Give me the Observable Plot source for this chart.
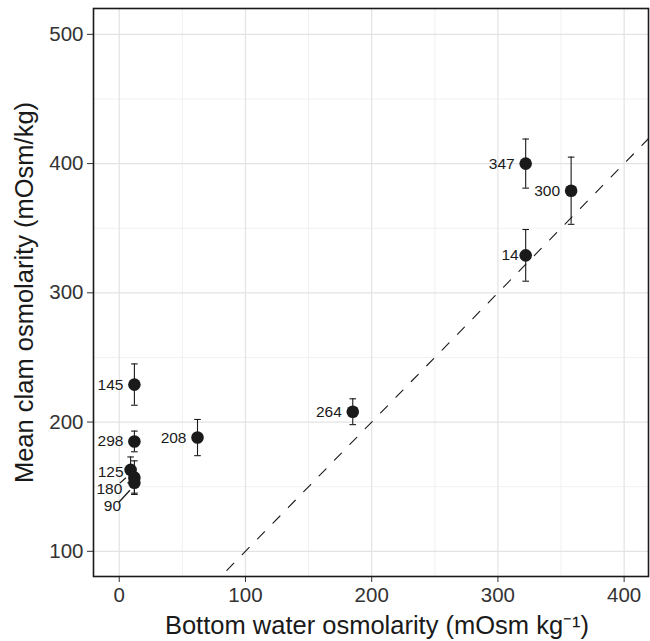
<!DOCTYPE html>
<html>
<head>
<meta charset="utf-8">
<script src="https://cdn.jsdelivr.net/npm/d3@7"></script>
<script src="https://cdn.jsdelivr.net/npm/@observablehq/plot@0.6"></script>
<style>
  html, body { margin: 0; padding: 0; background: #fff; }
  svg { display: block; }
</style>
</head>
<body>
<div id="chart"></div>
<script>
// ---- data ----
const sites = ["347", "300", "14", "264", "208", "145", "298", "125", "180", "90"];
const waterOsm = [322, 358, 322, 185, 62, 12, 12, 9, 12, 12];
const clamOsm = [400, 379, 329, 208, 188, 229, 185, 163, 157, 153];
const clamErr = [19, 26, 20, 10, 14, 16, 8, 10, 13, 8];
const xTicks = [0, 100, 200, 300, 400];
const xMinor = [50, 150, 250, 350];
const yTicks = [100, 200, 300, 400, 500];
const yMinor = [150, 250, 350, 450];
const refLine = [0, 520]; // 1:1 line

const xLabel = "Bottom water osmolarity (mOsm kg\u207B\u00B9)";
const yLabel = "Mean clam osmolarity (mOsm/kg)";

// ---- layout / style ----
const labelNudge = { "14": [-7, 0, "end"], "125": [-7, 2, "end"], "180": [-25, 11, "middle"], "90": [-22, 23, "middle"] };
const leaders = { "180": [[-14, 6], [-8, 0.6]], "90": [[-15, 20], [-4, 8]] };
const ink = "#1a1a1a";

const rows = sites.map((s, i) => ({
  site: s, x: waterOsm[i], y: clamOsm[i], lo: clamOsm[i] - clamErr[i], hi: clamOsm[i] + clamErr[i]
}));

const capSymbol = { draw(ctx) { ctx.moveTo(-3.3, 0); ctx.lineTo(3.3, 0); } };

const defaultLabels = rows.filter(d => !(d.site in labelNudge));
const labelMarks = [
  Plot.text(defaultLabels, { x: "x", y: "y", text: "site", textAnchor: "end", dx: -11, fontSize: 15.5, fill: ink })
];
for (const [site, [dx, dy, anchor]] of Object.entries(labelNudge)) {
  labelMarks.push(Plot.text(rows.filter(d => d.site === site), {
    x: "x", y: "y", text: "site", textAnchor: anchor, dx, dy, fontSize: 15.5, fill: ink
  }));
}

const chart = Plot.plot({
  width: 650,
  height: 641,
  marginLeft: 93,
  marginRight: 2,
  marginTop: 8,
  marginBottom: 65,
  style: { fontFamily: "'Liberation Sans', Arial, sans-serif", background: "#fff", color: ink },
  x: { domain: [-20.4, 419.3] },
  y: { domain: [80.5, 520] },
  marks: [
    Plot.gridX(xMinor, { stroke: "#ededed", strokeOpacity: 1, strokeWidth: 0.8 }),
    Plot.gridY(yMinor, { stroke: "#ededed", strokeOpacity: 1, strokeWidth: 0.8 }),
    Plot.gridX(xTicks, { stroke: "#e3e3e3", strokeOpacity: 1, strokeWidth: 1.2 }),
    Plot.gridY(yTicks, { stroke: "#e3e3e3", strokeOpacity: 1, strokeWidth: 1.2 }),
    Plot.line(refLine.map(v => [v, v]), { x: d => d[0], y: d => d[1], stroke: ink, strokeWidth: 1.1, strokeDasharray: "10,12", clip: true }),
    Plot.ruleX(rows, { x: "x", y1: "lo", y2: "hi", stroke: ink, strokeWidth: 1.1 }),
    Plot.dot(rows, { x: "x", y: "lo", symbol: capSymbol, stroke: ink, strokeWidth: 1.1, r: 3 }),
    Plot.dot(rows, { x: "x", y: "hi", symbol: capSymbol, stroke: ink, strokeWidth: 1.1, r: 3 }),
    Plot.dot(rows, { x: "x", y: "y", r: 6.3, fill: ink, stroke: "none", ariaLabel: "points" }),
    ...labelMarks,
    Plot.axisX(xTicks, { tickSize: 6, tickPadding: 5, fontSize: 20.5, stroke: "#333", fill: "#333", label: null }),
    Plot.axisY(yTicks, { tickSize: 6, tickPadding: 4, fontSize: 20.5, stroke: "#333", fill: "#333", label: null }),
    Plot.frame({ stroke: ink, strokeWidth: 1.6 }),
    Plot.text([xLabel], { frameAnchor: "bottom", textAnchor: "middle", lineAnchor: "middle", dy: 49, dx: 6, fontSize: 25.5, fill: ink }),
    Plot.text([yLabel], { frameAnchor: "left", textAnchor: "middle", lineAnchor: "middle", dx: -69, rotate: -90, fontSize: 25.5, fill: ink })
  ]
});

document.getElementById("chart").appendChild(chart);

// leader lines for repelled labels, drawn through the plot's scales, beneath the points
const sx = chart.scale("x"), sy = chart.scale("y");
const svg = d3.select(chart);
const g = svg.insert("g", 'g[aria-label="points"]');
for (const [site, [[x1, y1], [x2, y2]]] of Object.entries(leaders)) {
  const d = rows.find(r => r.site === site);
  const px = sx.apply(d.x), py = sy.apply(d.y);
  g.append("line")
    .attr("x1", px + x1).attr("y1", py + y1)
    .attr("x2", px + x2).attr("y2", py + y2)
    .attr("stroke", ink).attr("stroke-width", 1.3);
}
</script>
</body>
</html>
